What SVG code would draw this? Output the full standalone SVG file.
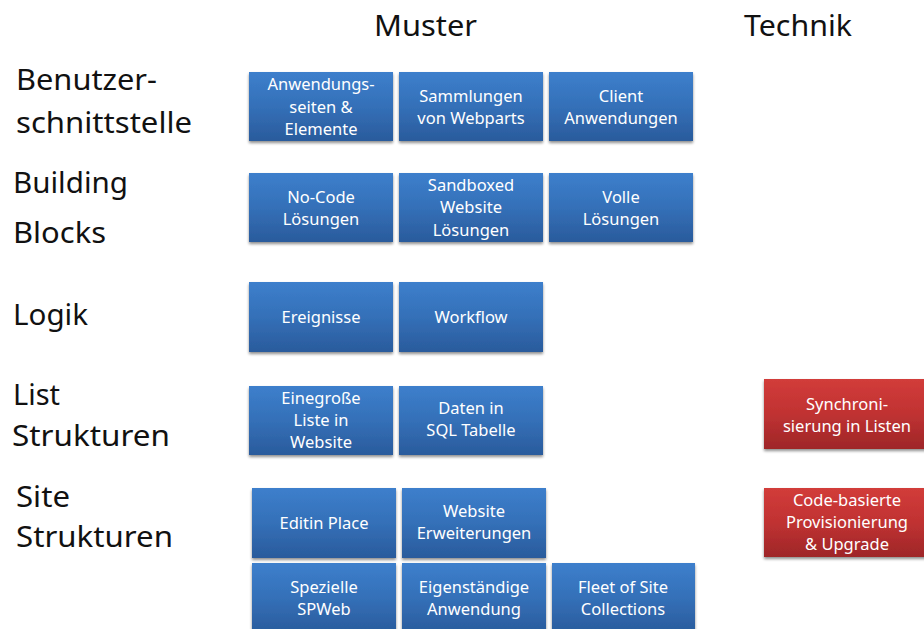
<svg xmlns="http://www.w3.org/2000/svg" width="924" height="629" viewBox="0 0 924 629">
<defs>
<linearGradient id="gb" x1="0" y1="0" x2="0" y2="1">
<stop offset="0" stop-color="#3D7FCC"/>
<stop offset="0.5" stop-color="#3470B8"/>
<stop offset="1" stop-color="#2A5B9C"/>
</linearGradient>
<linearGradient id="gr" x1="0" y1="0" x2="0" y2="1">
<stop offset="0" stop-color="#D23C3A"/>
<stop offset="0.5" stop-color="#C03232"/>
<stop offset="1" stop-color="#9E2628"/>
</linearGradient>
<filter id="sh" x="-10%" y="-10%" width="120%" height="130%">
<feGaussianBlur in="SourceAlpha" stdDeviation="1.5"/>
<feOffset dx="0" dy="2" result="b"/>
<feComponentTransfer><feFuncA type="linear" slope="0.45"/></feComponentTransfer>
<feMerge><feMergeNode/><feMergeNode in="SourceGraphic"/></feMerge>
</filter>
</defs>
<style>
.lbl{font-family:"Noto Sans","Open Sans",sans-serif;font-size:29px;fill:#111}
.bx{fill:url(#gb);filter:url(#sh)}
.rx{fill:url(#gr);filter:url(#sh)}
.t{font-family:"Noto Sans","Open Sans",sans-serif;font-size:16.5px;fill:#fff;text-anchor:middle}
</style>
<rect width="924" height="629" fill="#fff"/>
<g id="headers">
<text class="lbl" x="374" y="36" textLength="103" lengthAdjust="spacingAndGlyphs">Muster</text>
<text class="lbl" x="744" y="36" textLength="108" lengthAdjust="spacingAndGlyphs">Technik</text>
</g>
<g id="rowlabels">
<text class="lbl" x="16" y="90" textLength="141" lengthAdjust="spacingAndGlyphs">Benutzer-</text>
<text class="lbl" x="16" y="133" textLength="176" lengthAdjust="spacingAndGlyphs">schnittstelle</text>
<text class="lbl" x="13" y="193" textLength="115" lengthAdjust="spacingAndGlyphs">Building</text>
<text class="lbl" x="13" y="243" textLength="93" lengthAdjust="spacingAndGlyphs">Blocks</text>
<text class="lbl" x="13" y="325" textLength="75" lengthAdjust="spacingAndGlyphs">Logik</text>
<text class="lbl" x="13" y="405" textLength="47" lengthAdjust="spacingAndGlyphs">List</text>
<text class="lbl" x="12" y="446" textLength="158" lengthAdjust="spacingAndGlyphs">Strukturen</text>
<text class="lbl" x="16" y="507" textLength="54" lengthAdjust="spacingAndGlyphs">Site</text>
<text class="lbl" x="16" y="547" textLength="157" lengthAdjust="spacingAndGlyphs">Strukturen</text>
</g>
<g id="n1"><rect class="bx" x="249" y="72" width="144" height="69"/>
<text class="t" x="321" y="90">Anwendungs-</text><text class="t" x="321" y="113">seiten &amp;</text><text class="t" x="321" y="135">Elemente</text></g>
<g id="n2"><rect class="bx" x="399" y="72" width="144" height="69"/>
<text class="t" x="471" y="102">Sammlungen</text><text class="t" x="471" y="124">von Webparts</text></g>
<g id="n3"><rect class="bx" x="549" y="72" width="144" height="69"/>
<text class="t" x="621" y="102">Client</text><text class="t" x="621" y="124">Anwendungen</text></g>
<g id="n4"><rect class="bx" x="249" y="173" width="144" height="69"/>
<text class="t" x="321" y="203">No-Code</text><text class="t" x="321" y="225">Lösungen</text></g>
<g id="n5"><rect class="bx" x="399" y="173" width="144" height="69"/>
<text class="t" x="471" y="191">Sandboxed</text><text class="t" x="471" y="213">Website</text><text class="t" x="471" y="236">Lösungen</text></g>
<g id="n6"><rect class="bx" x="549" y="173" width="144" height="69"/>
<text class="t" x="621" y="203">Volle</text><text class="t" x="621" y="225">Lösungen</text></g>
<g id="n7"><rect class="bx" x="249" y="282" width="144" height="70"/>
<text class="t" x="321" y="323">Ereignisse</text></g>
<g id="n8"><rect class="bx" x="399" y="282" width="144" height="70"/>
<text class="t" x="471" y="323">Workflow</text></g>
<g id="n9"><rect class="bx" x="249" y="386" width="144" height="69"/>
<text class="t" x="321" y="404">Einegroße</text><text class="t" x="321" y="426">Liste in</text><text class="t" x="321" y="448">Website</text></g>
<g id="n10"><rect class="bx" x="399" y="386" width="144" height="69"/>
<text class="t" x="471" y="414">Daten in</text><text class="t" x="471" y="436">SQL Tabelle</text></g>
<g id="n11"><rect class="bx" x="252" y="488" width="144" height="70"/>
<text class="t" x="324" y="529">Editin Place</text></g>
<g id="n12"><rect class="bx" x="402" y="488" width="144" height="70"/>
<text class="t" x="474" y="517">Website</text><text class="t" x="474" y="539">Erweiterungen</text></g>
<g id="n13"><rect class="bx" x="252" y="563" width="144" height="70"/>
<text class="t" x="324" y="593">Spezielle</text><text class="t" x="324" y="615">SPWeb</text></g>
<g id="n14"><rect class="bx" x="402" y="563" width="144" height="70"/>
<text class="t" x="474" y="593">Eigenständige</text><text class="t" x="474" y="615">Anwendung</text></g>
<g id="n15"><rect class="bx" x="552" y="563" width="143" height="70"/>
<text class="t" x="623" y="593">Fleet of Site</text><text class="t" x="623" y="615">Collections</text></g>
<g id="r1"><rect class="rx" x="764" y="379" width="166" height="70"/>
<text class="t" x="847" y="410">Synchroni-</text><text class="t" x="847" y="432">sierung in Listen</text></g>
<g id="r2"><rect class="rx" x="764" y="488" width="166" height="69"/>
<text class="t" x="847" y="506">Code-basierte</text><text class="t" x="847" y="528">Provisionierung</text><text class="t" x="847" y="550">&amp; Upgrade</text></g>
<g id="connectors"></g>
</svg>
